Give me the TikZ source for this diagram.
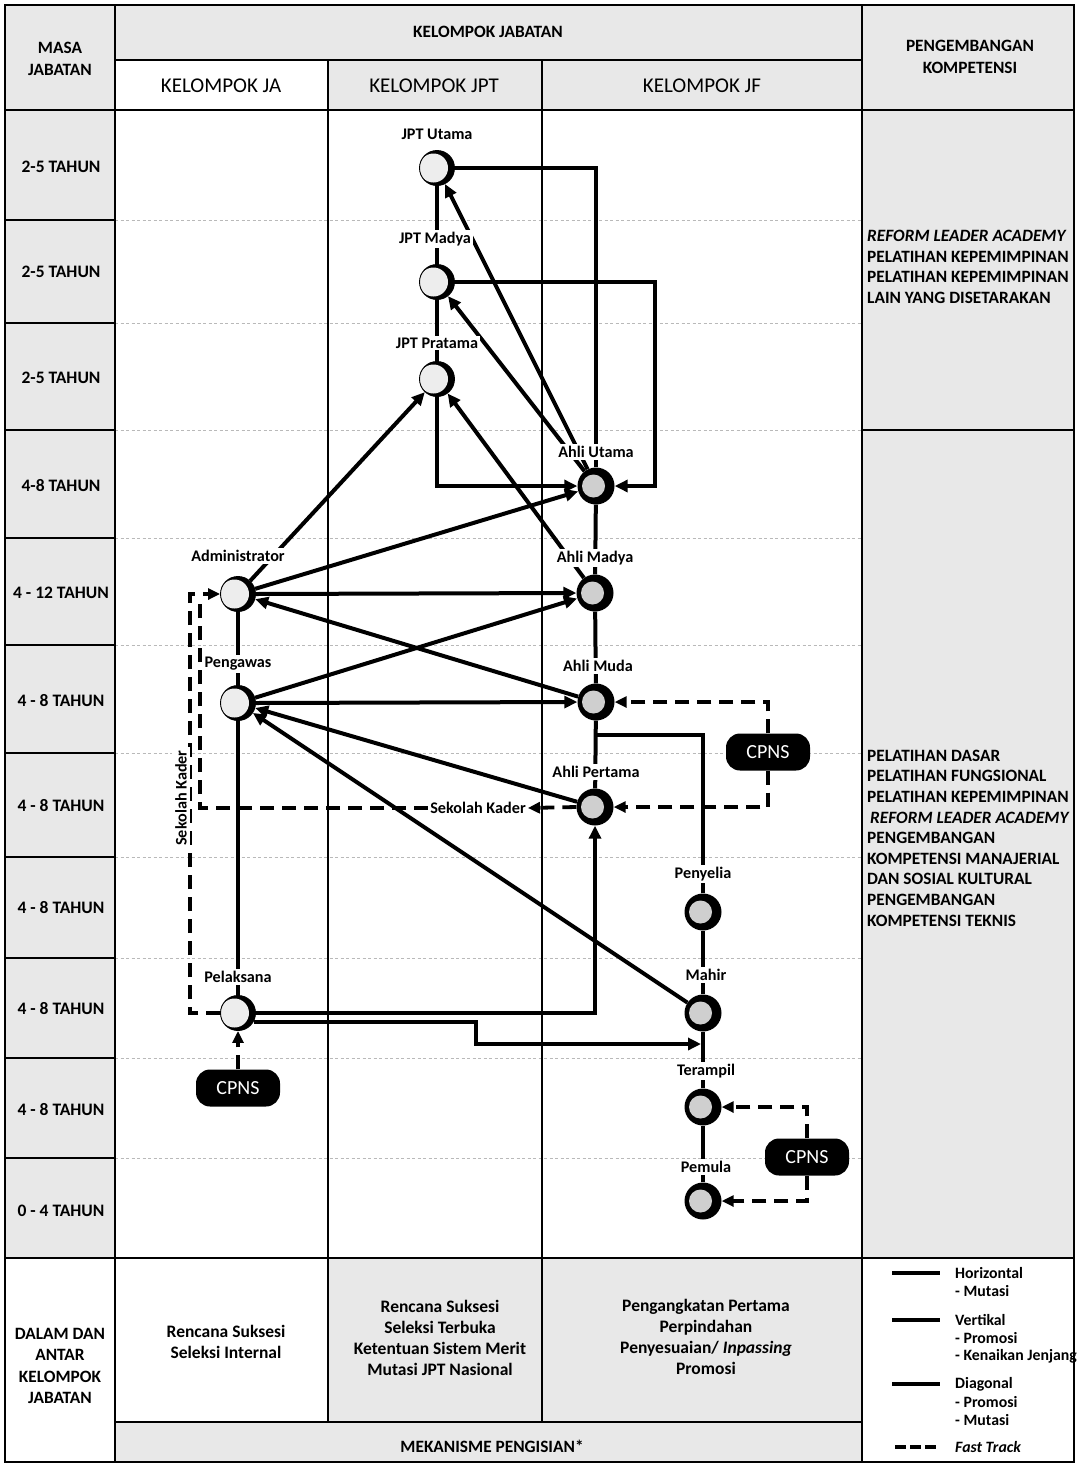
\documentclass[tikz,border=0pt]{standalone}
\usepackage{fontspec}
\setmainfont{Carlito}
\usetikzlibrary{arrows.meta}
\pgfdeclarelayer{bg}
\pgfdeclarelayer{lines}
\pgfsetlayers{bg,lines,main}
\begin{document}
\begin{tikzpicture}[x=1pt,y=-1pt,
  txt/.style={font=\bfseries\fontsize{17.5}{21}\selectfont,align=center,inner sep=1pt},
  hsmall/.style={font=\bfseries\fontsize{17.3}{21.5}\selectfont,align=center,inner sep=1pt},
  hbig/.style={font=\fontsize{21}{24}\selectfont,align=center,inner sep=1pt},
  rtxt/.style={font=\bfseries\fontsize{17.3}{20.6}\selectfont,align=left,anchor=west,inner sep=0pt},
  btxt/.style={font=\bfseries\fontsize{17.5}{21}\selectfont,align=center,inner sep=1pt},
  legt/.style={font=\bfseries\fontsize{15.8}{17}\selectfont,anchor=west,inner sep=0pt},
  lab/.style={font=\bfseries\fontsize{16.2}{17}\selectfont,fill=white,inner sep=2pt},
  conn/.style={line width=4pt},
  arr/.style={conn,-{Triangle[length=13pt,width=12pt]}},
  fast/.style={line width=3.8pt,dash pattern=on 14pt off 8pt},
  fastarr/.style={fast,-{Triangle[length=12pt,width=11pt]}},
  frame/.style={line width=2.2pt},
  inner/.style={line width=1.5pt},
  rowsep/.style={gray!55,line width=0.8pt,dash pattern=on 3pt off 2.5pt},
  shade/.style={fill=gray!18},
  lnode/.style={circle,draw=black,line width=0.9pt,minimum size=35pt,inner sep=0pt,fill=white,
    path picture={\fill[black] (path picture bounding box.center) circle (18pt);
      \fill[gray!14] ([xshift=-3.5pt]path picture bounding box.center) circle (14.5pt);}},
  dnode/.style={circle,fill=black,minimum size=37pt,inner sep=0pt,
    path picture={\fill[gray!38] ([xshift=-2.5pt]path picture bounding box.center) circle (11.5pt);}},
  cpns/.style={rounded corners=14pt,fill=black,text=white,minimum width=84pt,minimum height=37pt,
    inner sep=0pt,font=\fontsize{20}{22}\selectfont}
]
\useasboundingbox (0,0) rectangle (1077,1467);

% ---------------- table ----------------
\begin{pgfonlayer}{bg}
  \fill[white] (0,0) rectangle (1077,1467);
  \fill[shade] (5,5) rectangle (115,1258);
  \fill[shade] (115,5) rectangle (862,60);
  \fill[shade] (328,60) rectangle (862,110);
  \fill[shade] (862,5) rectangle (1074,1257);
  \fill[shade] (328,1258) rectangle (862,1422);
  \fill[shade] (115,1422) rectangle (862,1462);
  \foreach \yy in {220,323,430,538,645,753,857,958,1058,1158}
    \draw[rowsep] (115,\yy) -- (862,\yy);
  \foreach \yy in {110,220,323,430,538,645,753,857,958,1058,1158,1258}
    \draw[inner] (5,\yy) -- (115,\yy);
  \draw[inner] (115,60) -- (862,60);
  \draw[inner] (115,110) -- (1074,110);
  \draw[inner] (328,60) -- (328,1422);
  \draw[inner] (542,60) -- (542,1422);
  \draw[inner] (862,5) -- (862,1462);
  \draw[inner] (115,5) -- (115,1462);
  \draw[inner] (862,430) -- (1074,430);
  \draw[inner] (115,1258) -- (1074,1258);
  \draw[inner] (115,1422) -- (862,1422);
  \draw[frame] (5,5) rectangle (1074,1462);
\end{pgfonlayer}

% ---------------- header texts ----------------
\node[hsmall] (hmasa) at (60,59) {MASA\\JABATAN};
\node[hsmall] (hkj) at (488,32) {KELOMPOK JABATAN};
\node[hbig] (hja) at (221,86) {KELOMPOK JA};
\node[hbig] (hjpt) at (434,86) {KELOMPOK JPT};
\node[hbig] (hjf) at (702,86) {KELOMPOK JF};
\node[hsmall] (hpk) at (970,57) {PENGEMBANGAN\\KOMPETENSI};

\foreach \yy/\tt in {167/2-5 TAHUN,272/2-5 TAHUN,378/2-5 TAHUN,486/4-8 TAHUN,593/4 - 12 TAHUN,701/4 - 8 TAHUN,806/4 - 8 TAHUN,908/4 - 8 TAHUN,1009/4 - 8 TAHUN,1110/4 - 8 TAHUN,1211/0 - 4 TAHUN}
  \node[txt] (m\yy) at (61,\yy) {\tt};

% right column
\node[rtxt] (r1) at (867,267) {\textit{REFORM LEADER ACADEMY}\\PELATIHAN KEPEMIMPINAN\\PELATIHAN KEPEMIMPINAN\\LAIN YANG DISETARAKAN};
\node[rtxt] (r2) at (867,838) {PELATIHAN DASAR\\PELATIHAN FUNGSIONAL\\PELATIHAN KEPEMIMPINAN\\\hspace*{3pt}\textit{REFORM LEADER ACADEMY}\\PENGEMBANGAN\\KOMPETENSI MANAJERIAL\\DAN SOSIAL KULTURAL\\PENGEMBANGAN\\KOMPETENSI TEKNIS};

% bottom texts
\node[hsmall] (bdal) at (60,1366) {DALAM DAN\\ANTAR\\KELOMPOK\\JABATAN};
\node[btxt] (bja) at (226,1342) {Rencana Suksesi\\Seleksi Internal};
\node[btxt] (bjpt) at (440,1338) {Rencana Suksesi\\Seleksi Terbuka\\Ketentuan Sistem Merit\\Mutasi JPT Nasional};
\node[btxt] (bjf) at (706,1337) {Pengangkatan Pertama\\Perpindahan\\Penyesuaian/ \textit{Inpassing}\\Promosi};
\node[hsmall] (bmek) at (492,1446) {MEKANISME PENGISIAN*};

% legend
\coordinate (lg1a) at (892,1273); \coordinate (lg1b) at (940,1273);
\coordinate (lg2a) at (892,1320); \coordinate (lg2b) at (940,1320);
\coordinate (lg3a) at (892,1384); \coordinate (lg3b) at (940,1384);
\coordinate (lg4a) at (895,1447); \coordinate (lg4b) at (940,1447);
\draw[conn] (lg1a) -- (lg1b);
\draw[conn] (lg2a) -- (lg2b);
\draw[conn] (lg3a) -- (lg3b);
\draw[line width=3.8pt,dash pattern=on 11pt off 4pt] (lg4a) -- (lg4b);
\node[legt] (lt1) at (955,1273) {Horizontal};
\node[legt] (lt2) at (955,1291) {- Mutasi};
\node[legt] (lt3) at (955,1320) {Vertikal};
\node[legt] (lt4) at (955,1338) {- Promosi};
\node[legt] (lt5) at (955,1356) {- Kenaikan Jenjang};
\node[legt] (lt6) at (955,1384) {Diagonal};
\node[legt] (lt7) at (955,1402) {- Promosi};
\node[legt] (lt8) at (955,1420) {- Mutasi};
\node[legt] (lt9) at (955,1447) {\textit{Fast Track}};

% ---------------- position nodes ----------------
\node[lnode] (jptu) at (437,168) {};
\node[lnode] (jptm) at (437,282) {};
\node[lnode] (jptp) at (437,379) {};
\node[lnode] (adm) at (238,594) {};
\node[lnode] (pgw) at (238,703) {};
\node[lnode] (plk) at (238,1013) {};
\node[dnode] (au) at (596,486) {};
\node[dnode] (am) at (595,593) {};
\node[dnode] (amu) at (596,702) {};
\node[dnode] (ap) at (595,807) {};
\node[dnode] (pny) at (703,912) {};
\node[dnode] (mhr) at (703,1013) {};
\node[dnode] (trp) at (703,1107) {};
\node[dnode] (pml) at (703,1201) {};

\node[lab] (ljptu) at (437,134) {JPT Utama};
\node[lab] (ljptm) at (435,239) {JPT Madya};
\node[lab] (ljptp) at (437,343) {JPT Pratama};
\node[lab] (ladm) at (238,556) {Administrator};
\node[lab] (lpgw) at (238,664) {Pengawas};
\node[lab] (lplk) at (238,977) {Pelaksana};
\node[lab] (lau) at (596,452) {Ahli Utama};
\node[lab] (lam) at (595,558) {Ahli Madya};
\node[lab] (lamu) at (598,666) {Ahli Muda};
\node[lab] (lap) at (596,772) {Ahli Pertama};
\node[lab] (lpny) at (703,874) {Penyelia};
\node[lab] (lmhr) at (706,975) {Mahir};
\node[lab] (ltrp) at (706,1071) {Terampil};
\node[lab] (lpml) at (706,1167) {Pemula};
\node[lab] (lsk) at (478,808) {Sekolah Kader};
\node[lab,rotate=90,inner sep=3pt] (lsk2) at (181,798) {Sekolah Kader};

\node[cpns] (cp1) at (768,752) {CPNS};
\node[cpns] (cp2) at (238,1088) {CPNS};
\node[cpns] (cp3) at (807,1157) {CPNS};

% free-end coordinates
\coordinate (kr) at (655,400);
\coordinate (j1) at (596,735);
\coordinate (c476) at (476,1034);
\coordinate (mt) at (701,1044);
\coordinate (sk1) at (190,800);
\coordinate (sk2) at (200,600);

% ---------------- connectors ----------------
\begin{pgfonlayer}{lines}
  \draw[conn] (jptu) -- (jptm);
  \draw[conn] (jptm) -- (jptp);
  \draw[conn] (adm) -- (pgw);
  \draw[conn] (pgw) -- (plk);
  \draw[conn] (au) -- (am);
  \draw[conn] (am) -- (amu);
  \draw[conn] (amu) -- (ap);
  \draw[conn] (pny) -- (mhr);
  \draw[conn] (mhr) -- (trp);
  \draw[conn] (trp) -- (pml);
  \draw[conn] (jptu.east) -| (au.north);
  \draw[arr] (jptm.east) -| (kr) |- (au.east);
  \draw[arr] (jptp.south) |- (au.west);
  \draw[arr] (au) -- (jptu);
  \draw[arr] (au) -- (jptm);
  \draw[arr] (am) -- (jptp);
  \draw[arr] (adm) -- (jptp);
  \draw[arr] (adm) -- (au);
  \draw[arr] (adm.east) -- (am.west);
  \draw[arr] (amu) -- (adm);
  \draw[arr] (pgw) -- (am);
  \draw[arr] (pgw.east) -- (amu.west);
  \draw[arr] (ap) -- (pgw);
  \draw[arr] (mhr) -- (pgw);
  \draw[arr] (plk.east) -| (ap.south);
  \draw[arr] (plk.-30) -| (c476) |- (mt);
  \draw[conn] (pny.north) |- (j1);
  \draw[fastarr] (cp2.north) -- (plk.south);
  \draw[fastarr] (plk.west) -| (sk1) |- (adm.west);
  \draw[fastarr] (ap.west) -- (lsk.east);
  \draw[fast] (lsk.west) -| (sk2);
  \draw[fastarr] (cp1.north) |- (amu.east);
  \draw[fastarr] (cp1.south) |- (ap.east);
  \draw[fastarr] (cp3.north) |- (trp.east);
  \draw[fastarr] (cp3.south) |- (pml.east);
\end{pgfonlayer}
\end{tikzpicture}
\end{document}
